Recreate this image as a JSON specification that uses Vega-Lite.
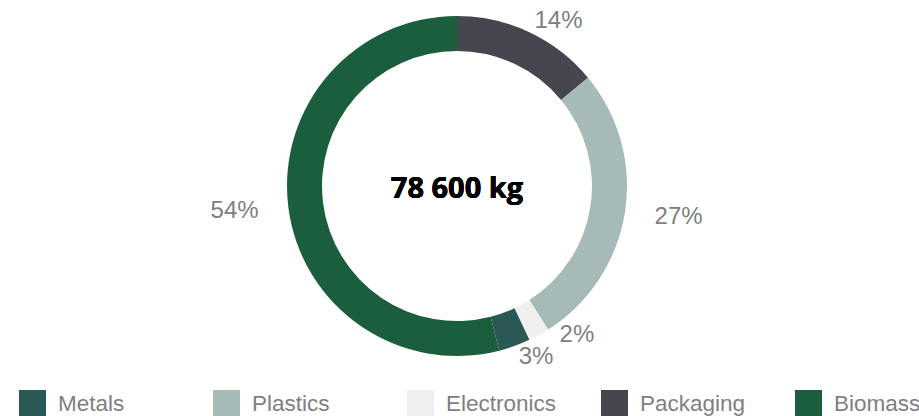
{
  "$schema": "https://vega.github.io/schema/vega-lite/v6.json",
  "width": 914,
  "height": 372,
  "autosize": {"type": "none"},
  "padding": {"left": 0, "top": 0, "right": 5, "bottom": 44},
  "background": "white",
  "config": {"view": {"stroke": null}, "font": "Liberation Sans"},
  "data": {
    "values": [
      {"category": "Packaging", "share": 0.14, "rank": 1},
      {"category": "Plastics", "share": 0.27, "rank": 2},
      {"category": "Electronics", "share": 0.02, "rank": 3},
      {"category": "Metals", "share": 0.03, "rank": 4},
      {"category": "Biomass", "share": 0.54, "rank": 5}
    ]
  },
  "layer": [
    {
      "mark": {"type": "arc", "outerRadius": 170, "innerRadius": 135},
      "encoding": {
        "theta": {"field": "share", "type": "quantitative", "stack": true},
        "order": {"field": "rank", "type": "quantitative"},
        "color": {
          "field": "category",
          "type": "nominal",
          "scale": {
            "domain": ["Metals", "Plastics", "Electronics", "Packaging", "Biomass"],
            "range": ["#2a5955", "#a6bbb8", "#efefef", "#46464f", "#1a5e3e"]
          },
          "legend": {
            "orient": "none",
            "legendX": 19,
            "legendY": 390,
            "direction": "horizontal",
            "columns": 5,
            "title": null,
            "symbolType": "square",
            "symbolSize": 729,
            "symbolStrokeWidth": 0,
            "labelFontSize": 22.5,
            "labelColor": "#7f7f7f",
            "labelFont": "Liberation Sans",
            "labelOffset": 12,
            "columnPadding": 44,
            "gridAlign": "all",
            "padding": 0,
            "labelLimit": 200
          }
        }
      }
    },
    {
      "mark": {"type": "text", "radius": 182, "align": "left", "baseline": "middle", "fontSize": 24, "color": "#808080"},
      "encoding": {
        "theta": {"field": "share", "type": "quantitative", "stack": true},
        "order": {"field": "rank", "type": "quantitative"},
        "detail": {"field": "category"},
        "text": {
          "condition": {"test": "datum.category === 'Packaging' || datum.category === 'Metals'", "field": "share", "type": "quantitative", "format": ".0%"},
          "value": ""
        }
      }
    },
    {
      "mark": {"type": "text", "radius": 200, "align": "left", "baseline": "middle", "fontSize": 24, "color": "#808080"},
      "encoding": {
        "theta": {"field": "share", "type": "quantitative", "stack": true},
        "order": {"field": "rank", "type": "quantitative"},
        "detail": {"field": "category"},
        "text": {
          "condition": {"test": "datum.category === 'Plastics'", "field": "share", "type": "quantitative", "format": ".0%"},
          "value": ""
        }
      }
    },
    {
      "mark": {"type": "text", "radius": 181, "thetaOffset": -0.1, "align": "left", "baseline": "middle", "fontSize": 24, "color": "#808080"},
      "encoding": {
        "theta": {"field": "share", "type": "quantitative", "stack": true},
        "order": {"field": "rank", "type": "quantitative"},
        "detail": {"field": "category"},
        "text": {
          "condition": {"test": "datum.category === 'Electronics'", "field": "share", "type": "quantitative", "format": ".0%"},
          "value": ""
        }
      }
    },
    {
      "mark": {"type": "text", "radius": 200, "align": "right", "baseline": "middle", "fontSize": 24, "color": "#808080"},
      "encoding": {
        "theta": {"field": "share", "type": "quantitative", "stack": true},
        "order": {"field": "rank", "type": "quantitative"},
        "detail": {"field": "category"},
        "text": {
          "condition": {"test": "datum.category === 'Biomass'", "field": "share", "type": "quantitative", "format": ".0%"},
          "value": ""
        }
      }
    },
    {
      "mark": {"type": "text", "radius": 0, "theta": 0, "align": "center", "baseline": "middle", "dy": 3, "fontSize": 29, "fontWeight": "bold", "font": "Open Sans", "color": "#000000"},
      "encoding": {
        "text": {"value": "78 600 kg"}
      }
    }
  ]
}
